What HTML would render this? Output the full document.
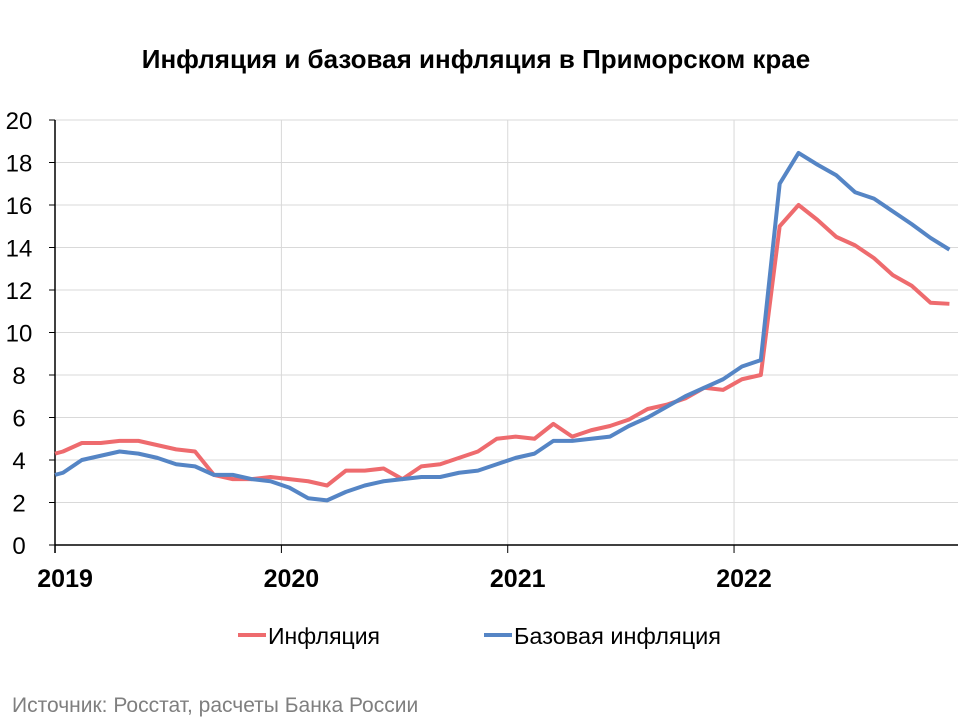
<!DOCTYPE html>
<html><head><meta charset="utf-8"><style>
body{margin:0;background:#fff;}
svg{font-family:"Liberation Sans",sans-serif;}
</style></head><body>
<svg width="960" height="720" viewBox="0 0 960 720">
<text x="476" y="68" text-anchor="middle" font-size="26" font-weight="bold" fill="#000">Инфляция и базовая инфляция в Приморском крае</text>
<g id="grid"></g><g id="axes"></g><g id="series"></g>
<g>
<line x1="238" y1="635" x2="266" y2="635" stroke="#ee6b6e" stroke-width="4"/>
<text x="268" y="644" font-size="23" fill="#000">Инфляция</text>
<line x1="484" y1="635" x2="512" y2="635" stroke="#5585c5" stroke-width="4"/>
<text x="514" y="644" font-size="23.5" fill="#000">Базовая инфляция</text>
</g>
<text x="12" y="712" font-size="21" fill="#7f7f7f">Источник: Росстат, расчеты Банка России</text>
</svg>
<script>
const years = ["2019","2020","2021","2022"];
const yTicks = [0,2,4,6,8,10,12,14,16,18,20];
const startInflation = 4.3;
const startCore = 3.3;
const inflation = [4.4,4.8,4.8,4.9,4.9,4.7,4.5,4.4,3.3,3.1,3.1,3.2,3.1,3.0,2.8,3.5,3.5,3.6,3.1,3.7,3.8,4.1,4.4,5.0,5.1,5.0,5.7,5.1,5.4,5.6,5.9,6.4,6.6,6.9,7.4,7.3,7.8,8.0,15.0,16.0,15.3,14.5,14.1,13.5,12.7,12.2,11.4,11.35];
const core = [3.4,4.0,4.2,4.4,4.3,4.1,3.8,3.7,3.3,3.3,3.1,3.0,2.7,2.2,2.1,2.5,2.8,3.0,3.1,3.2,3.2,3.4,3.5,3.8,4.1,4.3,4.9,4.9,5.0,5.1,5.6,6.0,6.5,7.0,7.4,7.8,8.4,8.7,17.0,18.45,17.9,17.4,16.6,16.3,15.7,15.1,14.45,13.9];
const NS="http://www.w3.org/2000/svg";
const X=m=>63+m*18.86;
const Y=v=>545-v*21.25;
const START=-0.42;
function mk(tag,attrs,parent){const e=document.createElementNS(NS,tag);for(const k in attrs)e.setAttribute(k,attrs[k]);parent.appendChild(e);return e;}
const grid=document.getElementById('grid'),axes=document.getElementById('axes'),ser=document.getElementById('series');
yTicks.forEach(v=>{
  if(v>0){const l=mk('line',{x1:55,x2:958,y1:Y(v),y2:Y(v),stroke:'#d9d9d9','stroke-width':1},grid);
  
  }
  const t=mk('line',{x1:49,x2:55,y1:Y(v),y2:Y(v),stroke:'#000','stroke-width':1},axes);
  
  
  const tx=mk('text',{x:19,y:Y(v)+9,'text-anchor':'middle','font-size':24,fill:'#000'},axes);
  tx.textContent=v;
  
  
});
years.forEach((yr,k)=>{
  const x=X(12*k+START);
  if(k>0){const g=mk('line',{x1:x,x2:x,y1:120,y2:545,stroke:'#d9d9d9','stroke-width':1},grid);
  
  }
  const t=mk('line',{x1:x,x2:x,y1:545,y2:553,stroke:'#000','stroke-width':1},axes);
  
  
  const tx=mk('text',{x:x+10,y:587,'text-anchor':'middle','font-size':25,'font-weight':'bold',fill:'#000'},axes);
  tx.textContent=yr;
  
  
});
const ya=mk('line',{x1:55,x2:55,y1:120,y2:553,stroke:'#000','stroke-width':1.5},axes);


const xa=mk('line',{x1:55,x2:958,y1:545,y2:545,stroke:'#000','stroke-width':1.5},axes);


function pts(start,arr){return [X(START)+','+Y(start)].concat(arr.map((v,i)=>X(i)+','+Y(v))).join(' ');}
const pr=mk('polyline',{points:pts(startInflation,inflation),fill:'none',stroke:'#ee6b6e','stroke-width':4,'stroke-linejoin':'round'},ser);


const pb=mk('polyline',{points:pts(startCore,core),fill:'none',stroke:'#5585c5','stroke-width':4,'stroke-linejoin':'round'},ser);


</script>
</body></html>
